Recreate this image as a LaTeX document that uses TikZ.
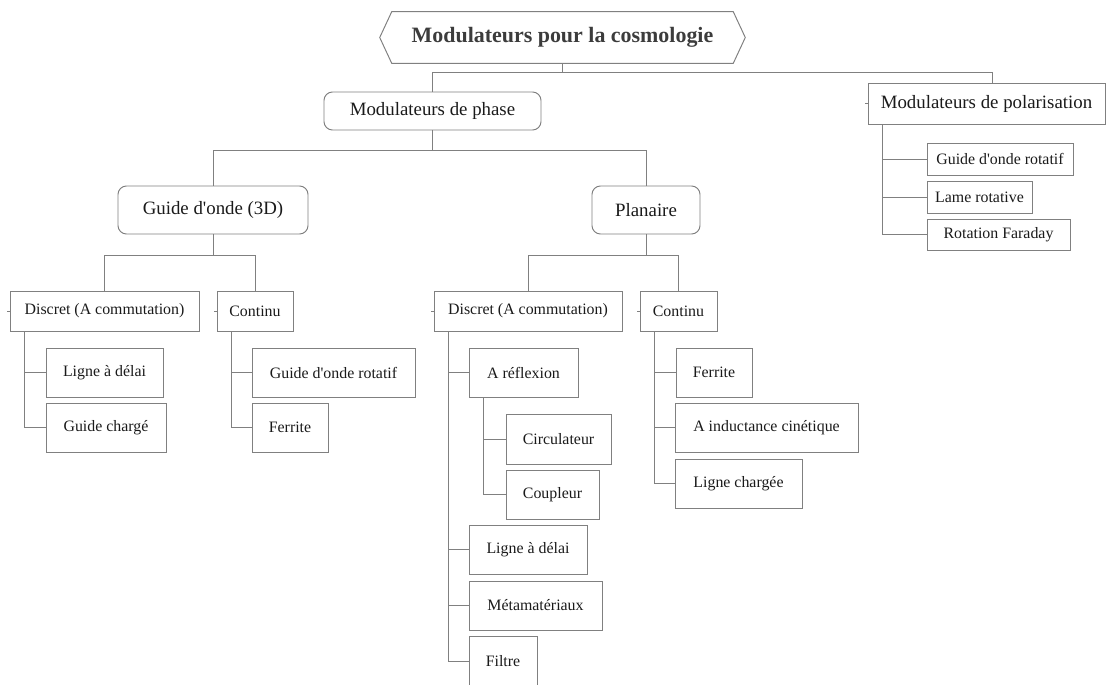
\documentclass[tikz,border=0pt]{standalone}
\usepackage{fontspec}
\setmainfont{Liberation Serif}
\usetikzlibrary{positioning}
\usetikzlibrary{calc}

\definecolor{linegray}{RGB}{128,128,128}
\definecolor{textdark}{RGB}{26,26,26}
\definecolor{titlegray}{RGB}{60,60,60}

\tikzset{
    sz/.style 2 args={minimum width=#1*0.025cm, minimum height=#2*0.025cm},
    link/.style={draw=linegray, line width=0.7pt},
    mainbox/.style={draw=linegray, line width=0.7pt, rounded corners=6pt, inner sep=0pt,
        text=textdark, font=\fontsize{13.4}{16}\selectfont},
    catbox/.style={draw=linegray, line width=0.7pt, inner sep=0pt,
        text=textdark, font=\fontsize{13.4}{16}\selectfont},
    leafbox/.style={draw=linegray, line width=0.7pt, inner sep=0pt,
        text=textdark, font=\fontsize{11.3}{14}\selectfont},
}

\begin{document}
\begin{tikzpicture}[x=0.025cm, y=-0.025cm]

    \useasboundingbox (0,0) rectangle (1107,685);

    % Title
    \node[sz={341}{51}, inner sep=0pt, text=titlegray,
        font=\bfseries\fontsize{15.6}{18}\selectfont] (title) at (562.5,37.5) {Modulateurs pour la cosmologie};
    \draw[link] (title.north west) -- (title.north east) -- ($(title.east)+(12,0)$)
        -- (title.south east) -- (title.south west) -- ($(title.west)+(-12,0)$) -- cycle;

    % First level
    \node[mainbox, sz={217}{38}] (phase) at (432.5,111) {Modulateurs de phase};
    \node[catbox, sz={237}{41}] (polar) at (986.5,103.5) {Modulateurs de polarisation};
    \coordinate (polartop) at ($(polar.north)+(5.5,0)$);

    % Phase: waveguide and planar
    \node[mainbox, sz={190}{48}] (guide3d) at (213,210) {Guide d\textquotesingle onde (3D)};
    \node[mainbox, sz={108}{48}] (planaire) at (646,210) {Planaire};

    \node[leafbox, sz={189}{40}] (discA) at (104.5,311) {Discret (A commutation)};
    \node[leafbox, sz={76}{40}] (contA) at (255,311) {Continu};
    \node[leafbox, sz={188}{40}] (discB) at (528,311) {Discret (A commutation)};
    \node[leafbox, sz={77}{40}] (contB) at (678.5,311) {Continu};

    % Waveguide leaves
    \node[leafbox, sz={117}{49}] (ligneA) at (104.5,372.5) {Ligne à délai};
    \node[leafbox, sz={120}{49}] (chargeA) at (106,427.5) {Guide chargé};
    \node[leafbox, sz={163}{49}] (rotA) at (333.5,372.5) {Guide d\textquotesingle onde rotatif};
    \node[leafbox, sz={76}{49}] (ferA) at (290,427.5) {Ferrite};

    % Planar leaves
    \node[leafbox, sz={109}{49}] (refl) at (523.5,372.5) {A réflexion};
    \node[leafbox, sz={105}{50}] (circ) at (558.5,439) {Circulateur};
    \node[leafbox, sz={93}{49}] (coup) at (552.5,494.5) {Coupleur};
    \node[leafbox, sz={118}{49}] (ligneB) at (528,549.5) {Ligne à délai};
    \node[leafbox, sz={133}{49}] (meta) at (535.5,605.5) {Métamatériaux};
    \node[leafbox, sz={68}{50}] (filtre) at (503,661) {Filtre};

    \node[leafbox, sz={76}{49}] (ferB) at (714,372.5) {Ferrite};
    \node[leafbox, sz={183}{49}] (induct) at (766.5,427.5) {A inductance cinétique};
    \node[leafbox, sz={127}{49}] (lchg) at (738.5,483.5) {Ligne chargée};

    % Polarisation leaves
    \node[leafbox, sz={146}{32}] (rotP) at (1000,159) {Guide d\textquotesingle onde rotatif};
    \node[leafbox, sz={105}{32}] (lame) at (979.5,197) {Lame rotative};
    \node[leafbox, sz={143}{31}] (farad) at (998.5,234.5) {Rotation Faraday};

    % Tree links
    \coordinate (t0) at ($(title.south)+(0,9)$);
    \draw[link] (title.south) -- (t0);
    \draw[link] (phase.north) |- (t0) -| (polartop);

    \coordinate (t1) at ($(phase.south)+(0,20)$);
    \draw[link] (phase.south) -- (t1);
    \draw[link] (guide3d.north) |- (t1) -| (planaire.north);

    \coordinate (t2) at ($(guide3d.south)+(0,21)$);
    \draw[link] (guide3d.south) -- (t2);
    \draw[link] (discA.north) |- (t2) -| (contA.north);

    \coordinate (t3) at ($(planaire.south)+(0,21)$);
    \draw[link] (planaire.south) -- (t3);
    \draw[link] (discB.north) |- (t3) -| (contB.north);

    % Side links to the leaves
    \foreach \p/\k in {discA/ligneA, discA/chargeA, contA/rotA, contA/ferA,
                       discB/refl, discB/ligneB, discB/meta, discB/filtre,
                       refl/circ, refl/coup,
                       contB/ferB, contB/induct, contB/lchg,
                       polar/rotP, polar/lame, polar/farad}
        \draw[link] ($(\p.south west)+(15,0)$) |- (\k.west);

    \foreach \n in {discA, contA, discB, contB, polar}
        \draw[link] (\n.west) -- ++(-3,0);

\end{tikzpicture}
\end{document}
